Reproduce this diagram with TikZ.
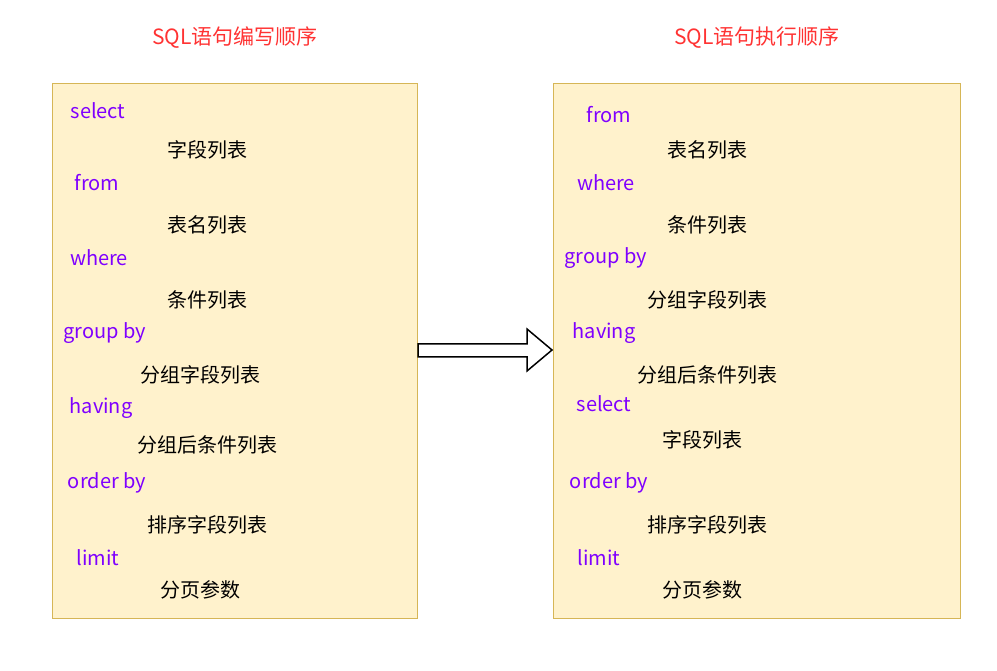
\documentclass[tikz,border=0pt]{standalone}
\usepackage{fontspec}
\setmainfont{Noto Sans CJK SC}
\begin{document}
\begin{tikzpicture}[x=1pt,y=-1pt,
  kw/.style={text=kwc,font=\fontsize{20}{24}\selectfont,inner sep=0},
  tx/.style={text=black,font=\fontsize{20}{24}\selectfont,inner sep=0},
  ttl/.style={text=ttlc,font=\fontsize{21}{25}\selectfont,inner sep=0},
  panel/.style={draw=pbord,fill=pfill,line width=1pt}]
\definecolor{kwc}{HTML}{7F00FF}
\definecolor{ttlc}{HTML}{FF3333}
\definecolor{pbord}{HTML}{D6B656}
\definecolor{pfill}{HTML}{FFF2CC}
\useasboundingbox (0,0) rectangle (997,671);
\node[ttl] (t1) at (235,38) {SQL语句编写顺序};
\node[ttl] (t2) at (757,38) {SQL语句执行顺序};
\draw[panel] (52,84) rectangle (417,618);
\draw[panel] (553,84) rectangle (960,618);
\draw[line width=1.5pt,fill=white] (418,344) -- (527,344) -- (527,329) -- (552,350) -- (527,371) -- (527,357) -- (418,357) -- cycle;
\node[kw] (l1) at (98,111) {select};
\node[tx] (l2) at (207,150) {字段列表};
\node[kw] (l3) at (97,183) {from};
\node[tx] (l4) at (207,225) {表名列表};
\node[kw] (l5) at (99,258) {where};
\node[tx] (l6) at (207,300) {条件列表};
\node[kw] (l7) at (105,333) {group by};
\node[tx] (l8) at (200,375) {分组字段列表};
\node[kw] (l9) at (101,408) {having};
\node[tx] (l10) at (207,445) {分组后条件列表};
\node[kw] (l11) at (107,483) {order by};
\node[tx] (l12) at (207,525) {排序字段列表};
\node[kw] (l13) at (98,558) {limit};
\node[tx] (l14) at (200,590) {分页参数};
\node[kw] (r1) at (609,115) {from};
\node[tx] (r2) at (707,150) {表名列表};
\node[kw] (r3) at (606,183) {where};
\node[tx] (r4) at (707,225) {条件列表};
\node[kw] (r5) at (606,258) {group by};
\node[tx] (r6) at (707,300) {分组字段列表};
\node[kw] (r7) at (604,333) {having};
\node[tx] (r8) at (707,375) {分组后条件列表};
\node[kw] (r9) at (604,404) {select};
\node[tx] (r10) at (702,440) {字段列表};
\node[kw] (r11) at (609,483) {order by};
\node[tx] (r12) at (707,525) {排序字段列表};
\node[kw] (r13) at (599,558) {limit};
\node[tx] (r14) at (702,590) {分页参数};
\end{tikzpicture}
\end{document}
